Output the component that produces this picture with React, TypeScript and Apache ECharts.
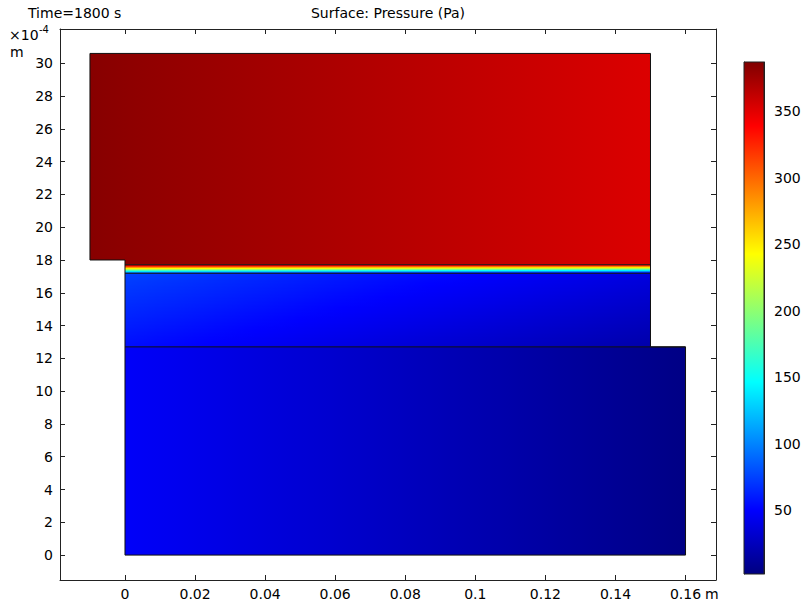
import React, { useEffect, useRef } from "react";
import * as echarts from "echarts";

// ---- colour range (Pa) ----
const P_MIN = 2;
const P_MAX = 387;

// ---- axis ticks ----
const xTicks = [0, 0.02, 0.04, 0.06, 0.08, 0.1, 0.12, 0.14, 0.16];
const yTicks = [0, 2, 4, 6, 8, 10, 12, 14, 16, 18, 20, 22, 24, 26, 28, 30];
const colorTicks = [50, 100, 150, 200, 250, 300, 350];

// ---- domains (x in m, y in 1e-4 m) ----
const domainX0 = [-0.01, 0, 0, 0, 0];
const domainX1 = [0.15, 0.15, 0.15, 0.15, 0.16];
const domainY0 = [18, 17.71, 17.19, 12.7, 0];
const domainY1 = [30.6, 18, 17.71, 17.19, 12.7];
// pressure at the domain corners (Pa)
const pTopLeft = [384, 383, 383, 75, 48];
const pTopRight = [352, 352, 352, 38, 4];
const pBottomLeft = [384, 383, 75, 55, 48];
const pBottomRight = [352, 352, 38, 18, 4];

// ---- geometry boundaries ----
const outerBoundary = [
  [-0.01, 18], [-0.01, 30.6], [0.15, 30.6], [0.15, 12.7], [0.16, 12.7],
  [0.16, 0], [0, 0], [0, 18], [-0.01, 18],
];
const innerLineY = [17.71, 17.19, 12.7];
const innerLineX1 = [0.15, 0.15, 0.16];

const FONT = "DejaVu Sans";
const FS = 14;

function clamp(v: number, a: number, b: number) {
  return Math.max(a, Math.min(b, v));
}
function jet(p: number) {
  const t = clamp((p - P_MIN) / (P_MAX - P_MIN), 0, 1);
  const r = clamp(Math.min(4 * t - 1.5, -4 * t + 4.5), 0, 1);
  const g = clamp(Math.min(4 * t - 0.5, -4 * t + 3.5), 0, 1);
  const b = clamp(Math.min(4 * t + 0.5, -4 * t + 2.5), 0, 1);
  return `rgb(${Math.round(r * 255)},${Math.round(g * 255)},${Math.round(b * 255)})`;
}
function hGradient(pa: number, pb: number) {
  const n = 12;
  const stops = [];
  for (let i = 0; i <= n; i++) {
    const f = i / n;
    stops.push({ offset: f, color: jet(pa + (pb - pa) * f) });
  }
  return { type: "linear", x: 0, y: 0, x2: 1, y2: 0, colorStops: stops };
}
function colorbarGradient() {
  const anchors = [0, 0.125, 0.375, 0.625, 0.875, 1];
  return {
    type: "linear", x: 0, y: 1, x2: 0, y2: 0,
    colorStops: anchors.map((a) => ({ offset: a, color: jet(P_MIN + a * (P_MAX - P_MIN)) })),
  };
}

export default function App() {
  const ref = useRef<HTMLDivElement>(null);
  useEffect(() => {
    if (!ref.current) return;
    const chart = echarts.init(ref.current, null, { renderer: "svg" });
    const domainData = domainX0.map((x0, i) => [
      x0, domainX1[i], domainY0[i], domainY1[i],
      pTopLeft[i], pTopRight[i], pBottomLeft[i], pBottomRight[i],
    ]);
    const axisColor = "#222";
    const labelStyle = { color: "#000", fontFamily: FONT, fontSize: FS };
    const option: any = {
      animation: false,
      textStyle: { fontFamily: FONT },
      grid: [
        { left: 60, top: 29, width: 656, height: 551, outerBoundsMode: "none", containLabel: false },
        { left: 744, top: 62, width: 20, height: 512, outerBoundsMode: "none", containLabel: false },
      ],
      xAxis: [
        {
          type: "value", gridIndex: 0, position: "bottom", min: -0.01855, max: 0.1687,
          axisLine: { show: true, onZero: false, lineStyle: { color: axisColor } },
          axisTick: { show: true, inside: true, length: 5, customValues: xTicks, lineStyle: { color: axisColor } },
          axisLabel: { show: true, margin: 7, customValues: xTicks, ...labelStyle, formatter: (v: number) => String(v) },
          splitLine: { show: false },
        },
        {
          type: "value", gridIndex: 0, position: "top", min: -0.01855, max: 0.1687,
          axisLine: { show: true, onZero: false, lineStyle: { color: axisColor } },
          axisTick: { show: true, inside: true, length: 5, customValues: xTicks, lineStyle: { color: axisColor } },
          axisLabel: { show: false, customValues: xTicks },
          splitLine: { show: false },
        },
        { type: "value", gridIndex: 1, min: 0, max: 1, show: false },
      ],
      yAxis: [
        {
          type: "value", gridIndex: 0, position: "left", min: -1.52, max: 32.09,
          axisLine: { show: true, onZero: false, lineStyle: { color: axisColor } },
          axisTick: { show: true, inside: true, length: 5, customValues: yTicks, lineStyle: { color: axisColor } },
          axisLabel: { show: true, margin: 7, customValues: yTicks, ...labelStyle },
          splitLine: { show: false },
        },
        {
          type: "value", gridIndex: 0, position: "right", min: -1.52, max: 32.09,
          axisLine: { show: true, onZero: false, lineStyle: { color: axisColor } },
          axisTick: { show: true, inside: true, length: 5, customValues: yTicks, lineStyle: { color: axisColor } },
          axisLabel: { show: false, customValues: yTicks },
          splitLine: { show: false },
        },
        {
          type: "value", gridIndex: 1, position: "left", min: P_MIN, max: P_MAX,
          axisLine: { show: true, lineStyle: { color: axisColor } },
          axisTick: { show: true, inside: true, length: 4, customValues: colorTicks, lineStyle: { color: axisColor } },
          axisLabel: { show: false, customValues: colorTicks },
          splitLine: { show: false },
        },
        {
          type: "value", gridIndex: 1, position: "right", min: P_MIN, max: P_MAX,
          axisLine: { show: true, lineStyle: { color: axisColor } },
          axisTick: { show: true, inside: true, length: 4, customValues: colorTicks, lineStyle: { color: axisColor } },
          axisLabel: { show: true, margin: 10, customValues: colorTicks, ...labelStyle },
          splitLine: { show: false },
        },
      ],
      series: [
        {
          type: "custom",
          xAxisIndex: 0, yAxisIndex: 0,
          silent: true,
          z: 1,
          encode: { x: [0, 1], y: [2, 3] },
          data: domainData,
          renderItem: (params: any, api: any) => {
            const x0 = api.value(0), x1 = api.value(1), y0 = api.value(2), y1 = api.value(3);
            const tl = api.value(4), tr = api.value(5), bl = api.value(6), br = api.value(7);
            const a = api.coord([x0, y1]);
            const b = api.coord([x1, y0]);
            const w = b[0] - a[0];
            const h = b[1] - a[1];
            const uniformV = tl === bl && tr === br;
            const children: any[] = [];
            if (uniformV) {
              children.push({
                type: "rect",
                shape: { x: a[0], y: a[1], width: w, height: h },
                style: { fill: hGradient(tl, tr) },
                silent: true,
              });
            } else {
              // one strip per pixel row, aligned to whole pixels
              const yStart = Math.floor(a[1]);
              const yEnd = Math.ceil(b[1]);
              for (let py = yStart; py < yEnd; py++) {
                const top = Math.max(py, a[1]);
                const bot = Math.min(py + 1, b[1]);
                const v = clamp(((top + bot) / 2 - a[1]) / h, 0, 1);
                const left = tl + (bl - tl) * v;
                const right = tr + (br - tr) * v;
                children.push({
                  type: "rect",
                  shape: { x: a[0], y: top, width: w, height: bot - top + (py + 1 < yEnd ? 0.5 : 0) },
                  style: { fill: hGradient(left, right) },
                  silent: true,
                });
              }
            }
            return { type: "group", children };
          },
        },
        {
          type: "line",
          xAxisIndex: 0, yAxisIndex: 0,
          data: outerBoundary,
          symbol: "none", silent: true, z: 5, clip: false,
          lineStyle: { color: "#111", width: 1 },
        },
        ...innerLineY.map((y, i) => ({
          type: "line",
          xAxisIndex: 0, yAxisIndex: 0,
          data: [[0, y], [innerLineX1[i], y]],
          symbol: "none", silent: true, z: 5, clip: false,
          lineStyle: { color: "#111", width: 1 },
        })),
        {
          type: "custom",
          xAxisIndex: 2, yAxisIndex: 2,
          silent: true,
          z: 1,
          encode: { x: [0, 1], y: [2, 3] },
          data: [[0, 1, P_MIN, P_MAX]],
          renderItem: (params: any, api: any) => {
            const a = api.coord([api.value(0), api.value(3)]);
            const b = api.coord([api.value(1), api.value(2)]);
            return {
              type: "rect",
              shape: { x: a[0], y: a[1], width: b[0] - a[0], height: b[1] - a[1] },
              style: { fill: colorbarGradient(), stroke: axisColor, lineWidth: 1 },
              silent: true,
            };
          },
        },
      ],
      graphic: [
        { type: "text", x: 28, y: 13, silent: true, style: { text: "Time=1800 s", fontSize: FS, fontFamily: FONT, fill: "#000", align: "left", verticalAlign: "middle" } },
        { type: "text", x: 388, y: 13, silent: true, style: { text: "Surface: Pressure (Pa)", fontSize: FS, fontFamily: FONT, fill: "#000", align: "center", verticalAlign: "middle" } },
        { type: "text", x: 9, y: 35, silent: true, style: { text: "×10", fontSize: FS, fontFamily: FONT, fill: "#000", align: "left", verticalAlign: "middle" } },
        { type: "text", x: 39, y: 29, silent: true, style: { text: "-4", fontSize: 10, fontFamily: FONT, fill: "#000", align: "left", verticalAlign: "middle" } },
        { type: "text", x: 10, y: 52, silent: true, style: { text: "m", fontSize: FS, fontFamily: FONT, fill: "#000", align: "left", verticalAlign: "middle" } },
        { type: "text", x: 705, y: 594, silent: true, style: { text: "m", fontSize: FS, fontFamily: FONT, fill: "#000", align: "left", verticalAlign: "middle" } },
      ],
    };
    chart.setOption(option);
    return () => chart.dispose();
  }, []);
  return (
    <div
      ref={ref}
      style={{ position: "fixed", left: 0, top: 0, width: 802, height: 605, background: "#fff" }}
    />
  );
}
